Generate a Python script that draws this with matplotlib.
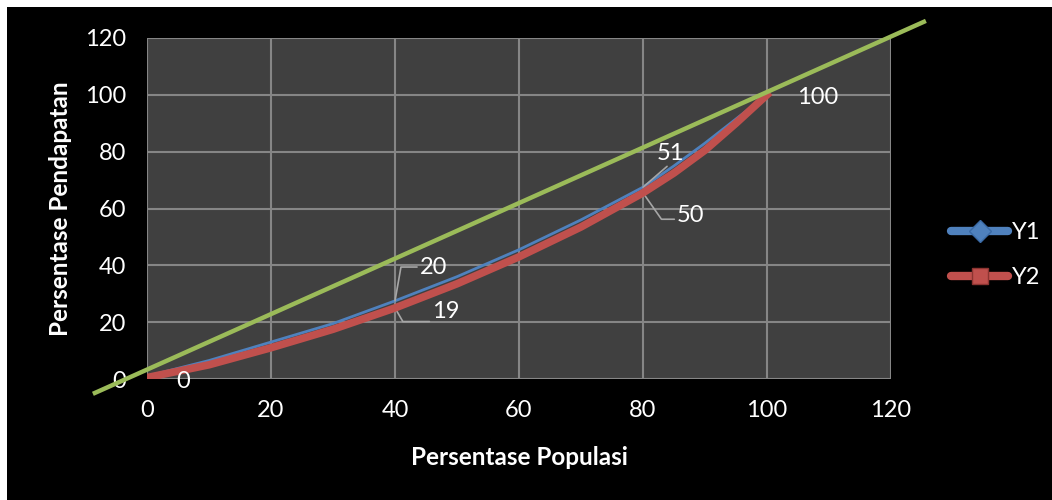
import numpy as np
import matplotlib.pyplot as plt
from matplotlib.lines import Line2D
from matplotlib.patches import Rectangle

# dati
x = [0, 10, 20, 30, 40, 50, 60, 70, 80, 85, 90, 95, 100]
y1 = [1, 6.5, 13, 19.5, 27.5, 36, 45.5, 56, 67.5, 75, 83, 91.5, 100]
y2 = [0.5, 5, 11, 17.5, 25, 33.5, 43, 53.5, 65.5, 72.5, 80.5, 90, 100]

# etichette dei punti (indice del punto, testo)
lab1 = {0: '0', 4: '20', 8: '51', 12: '100'}
lab2 = {4: '19', 8: '50'}

# linea di uguaglianza (verde), estremi
gx = [-8.4, 125.3]
gy = [-4.9, 125.7]

ticks = [0, 20, 40, 60, 80, 100, 120]

fnt = 'Lato'
fs = 17
blu = '#4f81bd'
rosso = '#c0504d'
verde = '#9bbb59'
grigio = '#a6a6a6'

fig = plt.figure(figsize=(10.52, 5), dpi=100, facecolor='white')
fig.patches.append(Rectangle((7/1052, 0), 1, 1 - 7/500, transform=fig.transFigure,
                             facecolor='black', edgecolor='none', zorder=-10))

ax = fig.add_axes([147/1052, 1 - 379/500, 744/1052, 341/500])
ax.set_facecolor('#404040')
ax.set_xlim(0, 120)
ax.set_ylim(0, 120)
ax.set_xticks(ticks)
ax.set_yticks(ticks)
ax.grid(True, color='#868686', lw=1.5)
ax.set_axisbelow(True)
for s in ax.spines.values():
    s.set_visible(False)
ax.tick_params(length=0, colors='white', labelsize=fs, pad=15)
for t in ax.get_xticklabels() + ax.get_yticklabels():
    t.set_fontfamily(fnt)

ax.plot(x, y1, color=blu, lw=2, zorder=3, solid_joinstyle='round')
ax.plot(x, y2, color=rosso, lw=5.5, zorder=4, solid_joinstyle='round')
ax.plot(gx, gy, color=verde, lw=3.2, clip_on=False, zorder=5)

# etichette
kw = dict(color='white', fontsize=fs, family=fnt)
ax.text(5.8, -1, lab1[0], ha='center', va='center', zorder=6, **kw)
ax.text(108.2, 99.2, lab1[12], ha='center', va='center', zorder=6, **kw)
ax.annotate(lab1[4], xy=(x[4], y1[4]), xytext=(44, 39.4), va='center', ha='left',
            arrowprops=dict(arrowstyle='-', color=grigio, lw=1.2, shrinkA=0, shrinkB=0,
                            connectionstyle='angle,angleA=0,angleB=80,rad=0'), **kw)
ax.annotate(lab2[4], xy=(x[4], y2[4]), xytext=(46, 23.9), va='center', ha='left',
            arrowprops=dict(arrowstyle='-', color=grigio, lw=1.2, shrinkA=0, shrinkB=0, relpos=(0, 0),
                            connectionstyle='angle,angleA=0,angleB=-60,rad=0'), **kw)
ax.annotate(lab1[8], xy=(x[8], y1[8]), xytext=(84.4, 79.5), va='center', ha='center',
            arrowprops=dict(arrowstyle='-', color=grigio, lw=1.2, shrinkA=0, shrinkB=0, relpos=(0.5, 0)),
            **kw)
ax.annotate(lab2[8], xy=(x[8], y2[8]), xytext=(85.5, 57.7), va='center', ha='left',
            arrowprops=dict(arrowstyle='-', color=grigio, lw=1.2, shrinkA=0, shrinkB=0, relpos=(0, 0.3),
                            connectionstyle='angle,angleA=0,angleB=-55,rad=0'), **kw)

ax.set_xlabel('Persentase Populasi', color='white', fontsize=fs + 0.5, fontweight='bold',
              family=fnt, labelpad=18)
ax.set_ylabel('Persentase Pendapatan', color='white', fontsize=fs + 0.5, fontweight='bold',
              family=fnt, labelpad=9)

h1 = Line2D([], [], color=blu, lw=6, marker='D', markersize=11, markerfacecolor=blu,
            markeredgecolor='#3a6aa5', solid_capstyle='round')
h2 = Line2D([], [], color=rosso, lw=6, marker='s', markersize=12, markerfacecolor=rosso,
            markeredgecolor='#8c3431', solid_capstyle='round')
leg = fig.legend([h1, h2], ['Y1', 'Y2'], loc='center left', bbox_to_anchor=(930/1052, 1 - 255/500),
                 frameon=False, handlelength=2.4, handletextpad=0.15, labelspacing=1.0,
                 prop={'family': fnt, 'size': fs})
for t in leg.get_texts():
    t.set_color('white')

fig.savefig('out.png', dpi=100, facecolor=fig.get_facecolor())
